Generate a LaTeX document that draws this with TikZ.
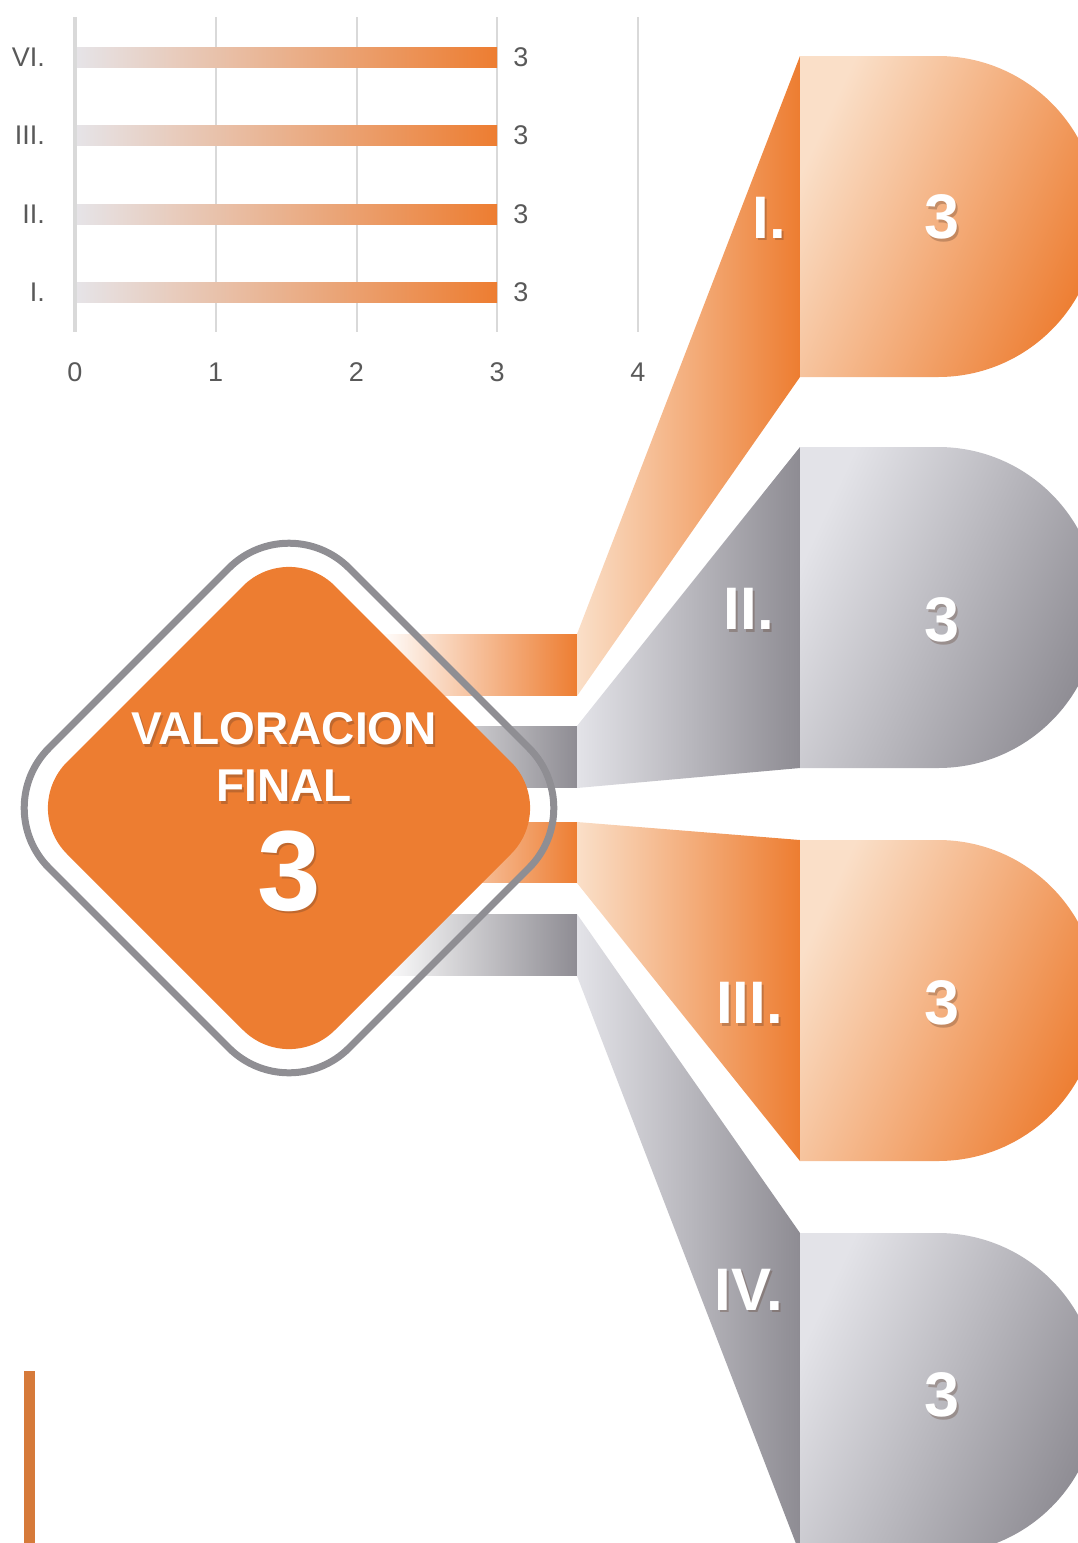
\documentclass[tikz,border=0pt]{standalone}
\usepackage{fontspec}
\setmainfont{Liberation Sans}
\usepackage{tikz}
\usetikzlibrary{fadings}

\definecolor{naranja}{HTML}{ED7D31}
\definecolor{melocoton}{HTML}{FADFC8}
\definecolor{grisosc}{HTML}{8E8C93}
\definecolor{grisclaro}{HTML}{E3E3E8}
\definecolor{rejilla}{HTML}{D9D9D9}
\definecolor{texto}{HTML}{595959}
\definecolor{aro}{HTML}{8F8E93}
\definecolor{barra}{HTML}{D67A3A}
\definecolor{inicio}{HTML}{E6E4E8}
\definecolor{sombreado}{HTML}{5A3A28}

\tikzfading[name=aparece, left color=transparent!100, right color=transparent!0]

\newcommand{\rotulo}[5]{%
  \node[sombra, font=\fontsize{#3}{#3}\selectfont\bfseries, anchor=#4, xshift=2pt, yshift=-2.5pt] at (#2) {#5};
  \node[blanco, font=\fontsize{#3}{#3}\selectfont\bfseries, anchor=#4] (#1) at (#2) {#5};}

\begin{document}
\begin{tikzpicture}[x=1pt, y=-1pt,
  eje/.style={font=\fontsize{27}{27}\selectfont, text=texto, inner sep=0pt},
  blanco/.style={text=white, inner sep=0pt},
  sombra/.style={text=sombreado, opacity=.3, inner sep=0pt}]

\useasboundingbox (0,0) rectangle (1078,1543);
\clip (0,0) rectangle (1078,1543);

% grafico de barras
\foreach \v in {1,2,3,4}
  \draw[rejilla, line width=2pt] ({75+140.75*\v},17) -- ({75+140.75*\v},332);

\foreach \nom/\yc [count=\i] in {VI./57, III./135.5, II./214.5, I./292.5}{
  \shade[left color=inicio, right color=naranja] (75,\yc-10) rectangle (497,\yc+10);
  \node[eje, anchor=east] (cat\i) at (45,\yc) {\nom};
  \node[eje] (val\i) at (521,\yc) {3};
}
\draw[rejilla, line width=4pt] (75,17) -- (75,332);

\foreach \v in {0,1,2,3,4}
  \node[eje] (tick\v) at ({75+140.75*\v},372) {\v};

% barras que salen del rombo
\fill[naranja, path fading=aparece] (380,634) rectangle (577,696);
\fill[grisosc, path fading=aparece] (380,726) rectangle (577,788);
\fill[naranja, path fading=aparece] (380,822) rectangle (577,883);
\fill[grisosc, path fading=aparece] (380,914) rectangle (577,976);

% rombo
\fill[naranja, rounded corners=65pt] (155,674) -- (289,540) -- (557,808) -- (289,1076) -- (21,808) -- cycle;
\draw[aro, line width=7pt, rounded corners=85pt] (139,658) -- (289,508) -- (589,808) -- (289,1108) -- (-11,808) -- cycle;

\rotulo{titulo}{284,729}{46}{center}{VALORACION}
\rotulo{final}{284,786}{46}{center}{FINAL}
\rotulo{total}{289,871}{114}{center}{3}

% cintas
\shade[left color=melocoton, right color=naranja] (577,634) -- (800,56) -- (800,377) -- (577,696) -- cycle;
\shade[left color=grisclaro, right color=grisosc] (577,726) -- (800,447) -- (800,768) -- (577,788) -- cycle;
\shade[left color=melocoton, right color=naranja] (577,822) -- (800,840) -- (800,1161) -- (577,883) -- cycle;
\shade[left color=grisclaro, right color=grisosc] (577,914) -- (800,1233) -- (800,1554) -- (577,976) -- cycle;

% etiquetas
\foreach \ytop/\claro/\oscuro in {56/melocoton/naranja, 447/grisclaro/grisosc, 840/melocoton/naranja, 1233/grisclaro/grisosc}
  \shade[left color=\claro, right color=\oscuro, shading angle=65]
    (800,\ytop) -- (938,\ytop) arc[start angle=90, end angle=-90, radius=160.5pt] -- (800,\ytop+321) -- cycle;

\rotulo{nI}{786,217.5}{60}{east}{I.}
\rotulo{nII}{774,609}{60}{east}{II.}
\rotulo{nIII}{783,1003}{60}{east}{III.}
\rotulo{nIV}{783,1289.5}{60}{east}{IV.}

\rotulo{pI}{942,217}{63}{center}{3}
\rotulo{pII}{942,620}{63}{center}{3}
\rotulo{pIII}{942,1003}{63}{center}{3}
\rotulo{pIV}{942,1395}{63}{center}{3}

\draw[barra, line width=11pt] (29,1371) -- (29,1543);

\end{tikzpicture}
\end{document}
